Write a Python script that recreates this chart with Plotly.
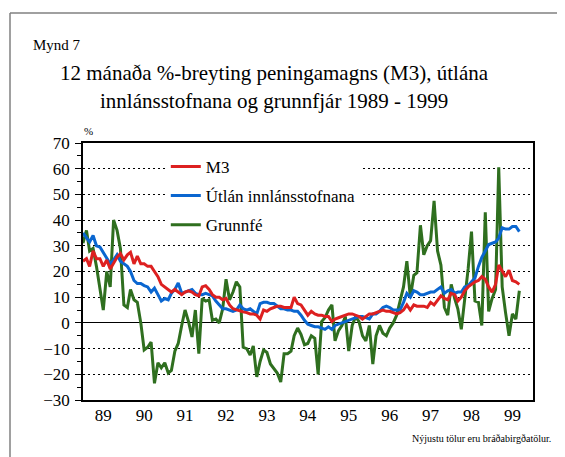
import pandas as pd
import plotly.graph_objects as go

# ---- data (12-month % change, monthly Jan 1989 - Sep 1999) ----
m3 = [24, 25, 22, 28, 25, 25, 22, 24.5, 21, 23.5, 25.5, 27,
      24.5, 26.5, 27.5, 23, 26, 23, 23, 22, 22, 20, 18, 15,
      14, 13, 12, 13, 12, 11, 12, 12.5, 12, 11, 10.5, 14,
      14.5, 13, 11, 10, 10, 9, 9.5, 7, 5.5, 5, 4.5, 4.3,
      4, 3.5, 3.5, 3, 1.5, 5, 4.5, 5.5, 6, 6.5, 6.5, 6,
      6, 6, 10, 7.5, 7, 5, 3, 4.5, 3.5, 3, 3, 2.5,
      2.5, 0.5, 1.5, 2, 2.5, 3, 3.5, 3.5, 3, 2.5, 1.5, 2.5,
      3.5, 3.5, 4, 4.5, 5, 4.5, 4.5, 4, 3.5, 4, 5, 7,
      5, 7, 6.5, 6.5, 6.5, 6, 8, 7, 9, 10.5, 9.5, 9,
      11.5, 11, 8.5, 10, 12.5, 14, 15, 16, 16.5, 18, 17, 14,
      12, 15, 22.5, 20, 18, 20.5, 16.5, 16, 15]

utlan = [35, 33, 31.5, 34, 30, 29.5, 27.5, 25.5, 23, 24.5, 26.5, 24,
         23, 22, 20, 16.5, 15.3, 15.3, 14.5, 14, 12, 13.5, 11, 8.5,
         9.5, 9, 11.5, 13, 15.5, 11.5, 12, 12.5, 13, 11.5, 11, 11,
         11.5, 11, 10.5, 8.5, 7, 5.5, 5.5, 5, 4.5, 5, 7, 5.5,
         5, 5.5, 4.5, 3.5, 7.5, 8, 8, 7.5, 7.5, 6.5, 5.5, 5.5,
         5, 5, 4.5, 4.5, 3, 1, -0.5, -1, -1.5, -1.5, -2, -2.5,
         -1.5, -2.5, -1, -0.5, 0, 0.5, 1, 1.5, 2, 2.5, 2.5, 2,
         1.5, 3.5, 3.5, 4.5, 6, 6.5, 6, 5, 5, 5, 8, 11.5,
         10, 12.5, 12, 11, 11, 11.5, 12, 12, 13, 14, 11.5, 12.5,
         13, 11.5, 12, 12, 14, 14.5, 16, 17.5, 22, 25.5, 28, 30.5,
         31, 31.5, 33, 37, 36.5, 36.5, 37.5, 37.5, 35.5]

grunnfe = [31, 36, 28, 29, 22, 14, 5, 20, 14, 40, 36, 29,
           7, 6, 13, 9, 8, 0, -10.5, -9.5, -7.5, -23.5, -15.5, -17.5,
           -15.5, -19.5, -18.5, -11, -8, -1, 5, 0.5, -5.5, 5, -12, 9.5,
           8.5, 9, 1, 1.5, 0, 5.5, 17, 9, 12, 16, 14, -9.5,
           -10, -12.5, -9, -21, -15, -10.5, -11.5, -16, -18, -19.5, -23, -12,
           -12, -11, -5, -2, -4.5, -8.5, -8, -5, -6, -20, 0.5, 2,
           5, 7, -7, -3, -1, 2.5, -11, -1, 2.5, 0.5, -5, -7,
           -1, -16, -5, -1, -4, -5, -2, 0, 3, 8, 14, 24,
           10, 18.5, 19.5, 38, 26.5, 30, 32, 47.5, 28, 22.5, 6, 3,
           15, 9.5, 5.5, -2.5, 8, 21, 35.5, 8.5, 8, -1, 43, 4.5,
           9.5, 13, 60.5, 14, 4, -5, 3.5, 1.5, 12.5]

months = pd.date_range("1989-01-01", periods=len(m3), freq="MS")
year_ticks = [f"{y}-07-01" for y in range(1989, 2000)]
year_labels = ["89", "90", "91", "92", "93", "94", "95", "96", "97", "98", "99"]

names = ["M3", "Útlán innlánsstofnana", "Grunnfé"]
colors = ["#dd2020", "#0a66d0", "#2f6f1f"]

SERIF = "'Liberation Serif', 'Times New Roman', Times, serif"

fig = go.Figure()
# draw green first (bottom), red last (top); legend order via legendrank
for name, vals, col, rank in [(names[2], grunnfe, colors[2], 3),
                              (names[1], utlan, colors[1], 2),
                              (names[0], m3, colors[0], 1)]:
    fig.add_trace(go.Scatter(x=months, y=vals, mode="lines", name=name,
                             legendgroup=name, legendrank=rank,
                             line=dict(color=col, width=3)))

# page body has an 8px margin; figure is sized so the plot lands where the reference has it
fig.update_layout(
    width=557, height=449,
    margin=dict(l=75, r=32, t=135, b=57),
    paper_bgcolor="white", plot_bgcolor="white",
    font=dict(family=SERIF, size=17, color="black"),
    showlegend=True,
    legend=dict(x=0.184, y=0.977, xanchor="left", yanchor="top",
                bgcolor="white", borderwidth=0,
                traceorder="grouped", tracegroupgap=4,
                font=dict(family=SERIF, size=17, color="black"),
                itemwidth=30),
)

fig.update_xaxes(
    type="date", range=["1989-01-01", "2000-01-01"],
    tickmode="array", tickvals=year_ticks, ticktext=year_labels,
    ticks="", showgrid=False, zeroline=False,
    showline=True, linecolor="black", linewidth=1.5, mirror=True,
    tickfont=dict(family=SERIF, size=17), ticklabelstandoff=-1,
)
fig.update_yaxes(
    range=[-30, 70], dtick=10, tick0=0,
    ticks="outside", ticklen=6, tickcolor="black", tickwidth=1,
    minor=dict(dtick=5, ticks="outside", ticklen=4, tickcolor="black", showgrid=False),
    showgrid=True, gridcolor="black", gridwidth=1, griddash="2px,3px",
    zeroline=True, zerolinecolor="black", zerolinewidth=1.2,
    showline=True, linecolor="black", linewidth=1.5, mirror=True,
    tickfont=dict(family=SERIF, size=17), ticklabelstandoff=2,
)

def px(xp):
    return (xp - 83) / 450

def py(yp):
    return (400 - yp) / 257

ann = [
    dict(text="Mynd 7", x=px(31), y=py(45), xanchor="left", yanchor="middle", font=dict(size=15)),
    dict(text="12 mánaða %-breyting peningamagns (M3), útlána", x=px(274), y=py(73),
         xanchor="center", yanchor="middle", font=dict(size=21)),
    dict(text="innlánsstofnana og grunnfjár 1989 - 1999", x=px(274), y=py(101),
         xanchor="center", yanchor="middle", font=dict(size=21)),
    dict(text="%", x=px(88), y=py(131), xanchor="center", yanchor="middle", font=dict(size=11)),
    dict(text="Nýjustu tölur eru bráðabirgðatölur.", x=px(553), y=py(438),
         xanchor="right", yanchor="middle", font=dict(size=10)),
]
for a in ann:
    a.update(xref="paper", yref="paper", showarrow=False)
    a["font"].update(family=SERIF, color="black")
fig.update_layout(annotations=ann)

# outer frame (top and left edges visible in the reference)
frame = dict(color="#808080", width=1.5)
fig.add_shape(type="line", xref="paper", yref="paper",
              x0=px(10), x1=px(580), y0=py(13), y1=py(13), line=frame)
fig.add_shape(type="line", xref="paper", yref="paper",
              x0=px(10), x1=px(10), y0=py(13), y1=py(470), line=frame)

fig.write_html("out.html")
